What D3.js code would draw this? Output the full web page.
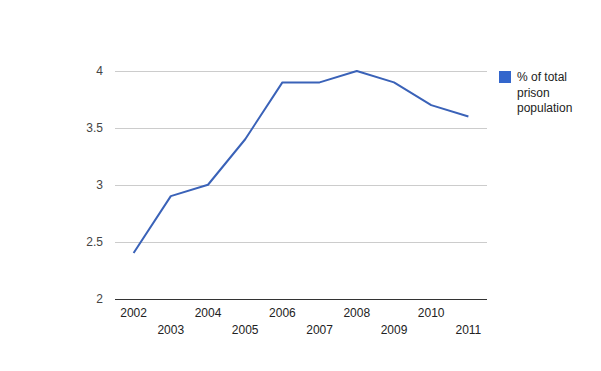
<!DOCTYPE html>
<html>
<head>
<meta charset="utf-8">
<script src="https://cdn.jsdelivr.net/npm/d3@7"></script>
<style>
  body { margin: 0; background: #fff; }
  text { font-family: Arial, "Liberation Sans", sans-serif; }
</style>
</head>
<body>
<div id="chart"></div>
<script>
const years = ["2002","2003","2004","2005","2006","2007","2008","2009","2010","2011"];
const values = [2.4, 2.9, 3.0, 3.4, 3.9, 3.9, 4.0, 3.9, 3.7, 3.6];
const yTicks = [2, 2.5, 3, 3.5, 4];
const seriesName = ["% of total", "prison", "population"];

const width = 601, height = 371;
const plotLeft = 115, plotRight = 487, plotTop = 71, plotBottom = 298.5;

const svg = d3.select("#chart").append("svg")
    .attr("width", width)
    .attr("height", height);

const x = d3.scaleBand().domain(years).range([plotLeft, plotRight]);
const y = d3.scaleLinear().domain([2, 4]).range([plotBottom, plotTop]);

// gridlines
svg.selectAll("line.grid")
    .data(yTicks.filter(d => d !== 2))
    .enter().append("line")
    .attr("class", "grid")
    .attr("x1", plotLeft).attr("x2", plotRight)
    .attr("y1", d => Math.round(y(d)) + 0.5)
    .attr("y2", d => Math.round(y(d)) + 0.5)
    .attr("stroke", "#cccccc");

// baseline
svg.append("line")
    .attr("x1", plotLeft).attr("x2", plotRight)
    .attr("y1", Math.round(y(2)) + 0.5).attr("y2", Math.round(y(2)) + 0.5)
    .attr("stroke", "#333333");

// y labels
svg.selectAll("text.ylab")
    .data(yTicks)
    .enter().append("text")
    .attr("class", "ylab")
    .attr("x", 103)
    .attr("y", d => y(d))
    .attr("dy", "0.35em")
    .attr("text-anchor", "end")
    .attr("font-size", 12)
    .attr("fill", "#444")
    .text(d => d);

// x labels, alternating rows
svg.selectAll("text.xlab")
    .data(years)
    .enter().append("text")
    .attr("class", "xlab")
    .attr("x", d => x(d) + x.bandwidth() / 2)
    .attr("y", (d, i) => i % 2 === 0 ? 313 : 329.5)
    .attr("dy", "0.35em")
    .attr("text-anchor", "middle")
    .attr("font-size", 12)
    .attr("fill", "#222")
    .text(d => d);

// line
const line = d3.line()
    .x((d, i) => x(years[i]) + x.bandwidth() / 2)
    .y(d => y(d));

svg.append("path")
    .datum(values)
    .attr("fill", "none")
    .attr("stroke", "#3a62b8")
    .attr("stroke-width", 2)
    .attr("stroke-linejoin", "round")
    .attr("d", line);

// legend
svg.append("rect")
    .attr("x", 499).attr("y", 71)
    .attr("width", 12).attr("height", 12)
    .attr("fill", "#3366cc");

svg.selectAll("text.leg")
    .data(seriesName)
    .enter().append("text")
    .attr("class", "leg")
    .attr("x", 517)
    .attr("y", (d, i) => 77 + i * 15.5)
    .attr("dy", "0.35em")
    .attr("font-size", 12)
    .attr("fill", "#222")
    .text(d => d);
</script>
</body>
</html>
